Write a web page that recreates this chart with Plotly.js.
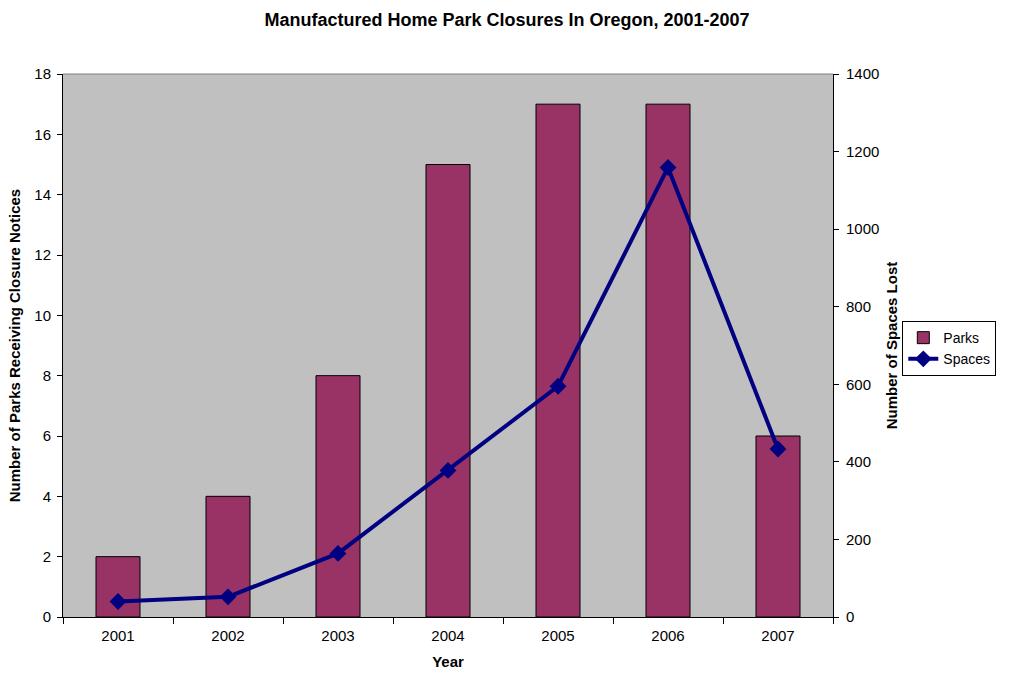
<!DOCTYPE html>
<html>
<head>
<meta charset="utf-8">
<script src="https://cdn.plot.ly/plotly-3.0.1.min.js"></script>
<style>
  html, body { margin: 0; padding: 0; background: #fff; }
  #chart { width: 1010px; height: 673px; }
</style>
</head>
<body>
<div id="chart"></div>
<script>
var years = ['2001', '2002', '2003', '2004', '2005', '2006', '2007'];
var parks = [2, 4, 8, 15, 17, 17, 6];
var spaces = [40, 52, 164, 378, 595, 1159, 433];

var font = 'Arial, "Liberation Sans", sans-serif';

var parkBars = {
    x: years,
    y: parks,
    type: 'bar',
    name: 'Parks',
    marker: { color: '#993366', line: { color: '#000000', width: 1 } }
};

var spaceLine = {
    x: years,
    y: spaces,
    type: 'scatter',
    mode: 'lines+markers',
    name: 'Spaces',
    yaxis: 'y2',
    line: { color: '#000080', width: 4 },
    marker: { symbol: 'diamond', size: 13, color: '#000080' }
};

var layout = {
    width: 1010,
    height: 673,
    margin: { l: 63, r: 177, t: 74, b: 56 },
    paper_bgcolor: '#ffffff',
    plot_bgcolor: '#c0c0c0',
    font: { family: font, size: 15, color: '#000' },
    title: {
        text: '<b>Manufactured Home Park Closures In Oregon, 2001-2007</b>',
        font: { size: 18, family: font },
        x: 0.502, xanchor: 'center',
        y: 0.97, yanchor: 'middle'
    },
    bargap: 0.6,
    showlegend: true,
    legend: {
        x: 1.09, y: 0.545, xanchor: 'left', yanchor: 'top',
        bordercolor: '#000', borderwidth: 1,
        font: { size: 14, family: font },
        tracegroupgap: 0
    },
    xaxis: {
        type: 'category',
        title: { text: '<b>Year</b>', font: { size: 15 }, standoff: 13 },
        showline: true, linecolor: '#000', linewidth: 1,
        ticks: 'outside', tickson: 'boundaries', ticklen: 6, tickcolor: '#000',
        ticklabelstandoff: 5,
        showgrid: false, zeroline: false
    },
    yaxis: {
        title: { text: '<b>Number of Parks Receiving Closure Notices</b>', font: { size: 15 }, standoff: 10 },
        range: [0, 18], dtick: 2,
        showline: true, linecolor: '#000', linewidth: 1,
        ticks: 'outside', ticklen: 5, tickcolor: '#000',
        ticklabelstandoff: 3,
        showgrid: false, zeroline: false
    },
    yaxis2: {
        title: { text: '<b>Number of Spaces Lost</b>', font: { size: 15 }, standoff: 8 },
        overlaying: 'y', side: 'right',
        range: [0, 1400], dtick: 200,
        showline: true, linecolor: '#000', linewidth: 1,
        ticks: 'outside', ticklen: 5, tickcolor: '#000',
        ticklabelstandoff: 4,
        showgrid: false, zeroline: false
    },
    shapes: [{
        type: 'line', xref: 'paper', yref: 'paper',
        x0: 0, x1: 1, y0: 1, y1: 1,
        line: { color: '#808080', width: 1 }
    }]
};

Plotly.newPlot('chart', [parkBars, spaceLine], layout, { displayModeBar: false });
</script>
</body>
</html>
